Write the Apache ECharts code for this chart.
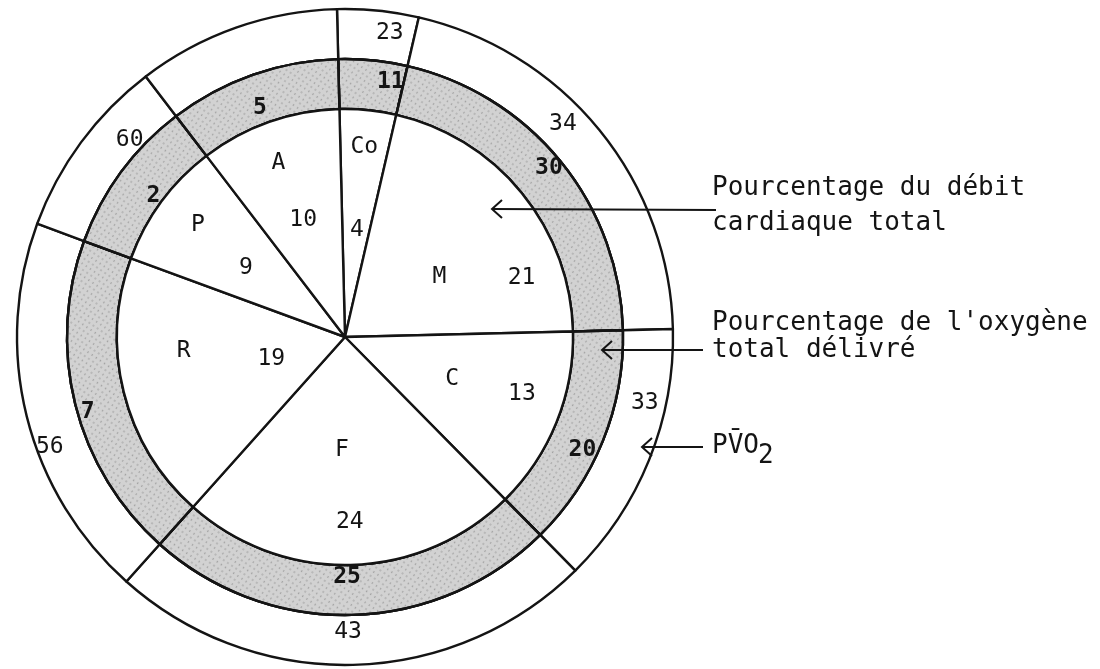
<!DOCTYPE html>
<html>
<head>
	<meta charset="utf-8">
	<title>Débit cardiaque et oxygène délivré</title>
	<style type="text/css">
		body { margin: 0; background-color: #fff; }
		#main { width: 1100px; height: 669px; }
	</style>
	<script src="https://cdn.jsdelivr.net/npm/echarts@6/dist/echarts.min.js"></script>
</head>
<body>
	<div id="main"></div>
	<script type="text/javascript">
	// organes
	var organs = ['Co', 'M', 'C', 'F', 'R', 'P', 'A'];
	// pourcentage du débit cardiaque total (secteurs)
	var cardiac = [4, 21, 13, 24, 19, 9, 10];
	// pourcentage de l'oxygène total délivré (anneau gris)
	var oxygen = [11, 30, 20, 25, 7, 2, 5];
	// PvO2 (anneau extérieur), rien pour A
	var pvo2 = [23, 34, 33, 43, 56, 60, null];

	// placement des étiquettes : rayon et décalage d'angle par rapport au milieu du secteur
	var nameR = [191, 112, 115, 113, 162, 185, 186];
	var nameShift = [0, -6.6, 0.6, -2.9, -9, -1, 1.6];
	var valR = [108, 186, 186, 185, 77, 121, 124];
	var valShift = [-0.6, -20.8, 4, 0.1, 3, 1.4, 0.3];
	var oxyR = [259, 265, 263, 240, 268, 238, 244];
	var oxyShift = [-4.4, 0.5, -3.5, -0.9, 2.3, 0, 1];
	var pvoR = [307, 305, 307, 295, 315, 292, 303];
	var pvoShift = [-2.6, 5.2, 9.6, -0.8, 6.4, -6.1, 0];

	var CX = 345, CY = 337, START = 91.4;
	var MONO = '"DejaVu Sans Mono", monospace';
	var INK = '#141414';

	// angle du milieu de chaque secteur
	var total = 0;
	cardiac.forEach(function (v) { total += v; });
	var mids = [];
	var cum = 0;
	cardiac.forEach(function (v) {
		mids.push(START - (cum + v / 2) / total * 360);
		cum += v;
	});

	function placeAt(radii, shifts) {
		return function (p) {
			var i = p.dataIndex;
			var a = (mids[i] + shifts[i]) * Math.PI / 180;
			return {
				x: CX + radii[i] * Math.cos(a),
				y: CY - radii[i] * Math.sin(a),
				align: 'center',
				verticalAlign: 'middle'
			};
		};
	}

	var sectors = organs.map(function (name, i) {
		return { name: name, value: cardiac[i] };
	});

	function ring(radius, fill, texts, radii, shifts, bold, decal) {
		var style = { color: fill, borderColor: INK, borderWidth: 2.4 };
		if (decal) style.decal = decal;
		return {
			type: 'pie',
			center: [CX, CY],
			radius: radius,
			startAngle: START,
			clockwise: true,
			silent: true,
			avoidLabelOverlap: false,
			data: sectors,
			itemStyle: style,
			emphasis: { disabled: true },
			label: {
				show: true,
				position: 'inside',
				fontFamily: MONO,
				fontSize: 23,
				fontWeight: bold ? 'bold' : 'normal',
				color: INK,
				formatter: function (p) {
					var t = texts[p.dataIndex];
					return t == null ? '' : String(t);
				}
			},
			labelLine: { show: false },
			labelLayout: placeAt(radii, shifts)
		};
	}

	function arrow(tipX, tipY, endX, endY) {
		return [
			{ type: 'line', z: 100, shape: { x1: tipX, y1: tipY, x2: endX, y2: endY },
				style: { stroke: INK, lineWidth: 2 } },
			{ type: 'polyline', z: 100, shape: { points: [[tipX + 10, tipY - 9], [tipX, tipY], [tipX + 10, tipY + 9]] },
				style: { stroke: INK, lineWidth: 2, fill: null } }
		];
	}

	function note(text, x, y, size) {
		return { type: 'text', z: 100, x: x, y: y,
			style: { text: text, fontFamily: MONO, fontSize: size || 26, fill: INK, verticalAlign: 'middle' } };
	}

	var graphics = []
		.concat(arrow(492, 209, 716, 210))
		.concat(arrow(602, 350, 703, 350))
		.concat(arrow(642, 447, 703, 447))
		.concat([
			note('Pourcentage du débit', 712, 188),
			note('cardiaque total', 712, 223),
			note("Pourcentage de l'oxygène", 712, 323),
			note('total délivré', 712, 350),
			note('PV\u0304O', 712, 446),
			note('2', 758, 456)
		]);

	var chart = echarts.init(document.getElementById('main'));
	chart.setOption({
		backgroundColor: '#fff',
		animation: false,
		series: [
			ring([278, 328], '#fff', pvo2, pvoR, pvoShift, false),
			ring([228, 278], '#d2d2d2', oxygen, oxyR, oxyShift, true,
				{ symbol: 'circle', symbolSize: 0.7, color: 'rgba(30,30,30,0.4)',
				  dashArrayX: [[2, 3], [3, 2]], dashArrayY: [2, 3], rotation: 0.6 }),
			ring([0, 228], '#fff', organs, nameR, nameShift, false),
			(function () {
				var s = ring([0, 228], 'rgba(0,0,0,0)', cardiac, valR, valShift, false);
				s.itemStyle.borderWidth = 0;
				return s;
			})()
		],
		graphic: graphics
	});
	</script>
</body>
</html>
